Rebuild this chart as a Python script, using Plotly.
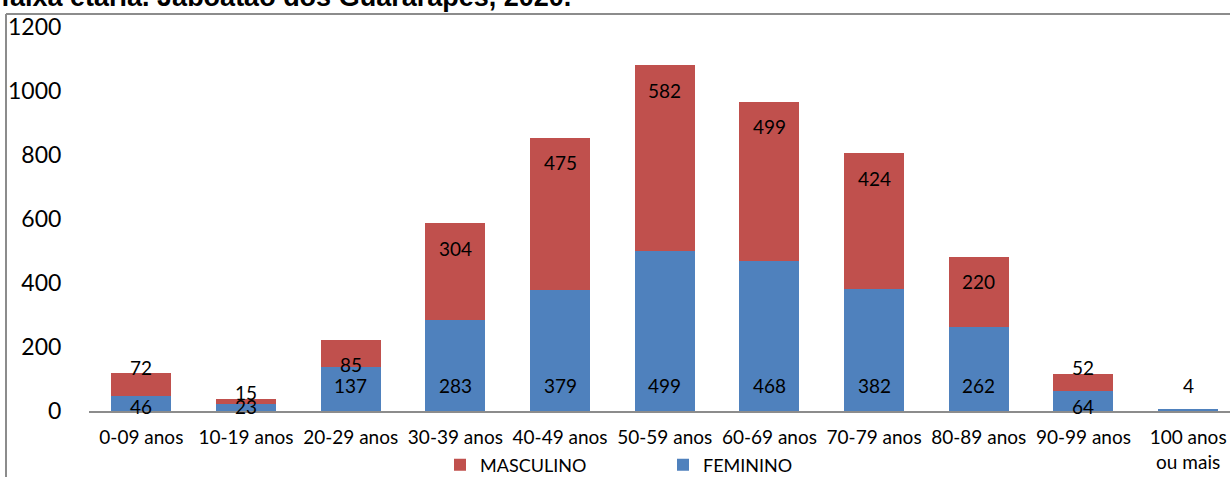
import plotly.graph_objects as go

categories = ["0-09 anos", "10-19 anos", "20-29 anos", "30-39 anos", "40-49 anos",
              "50-59 anos", "60-69 anos", "70-79 anos", "80-89 anos", "90-99 anos",
              "100 anos<br>ou mais"]
feminino = [46, 23, 137, 283, 379, 499, 468, 382, 262, 64, 4]
masculino = [72, 15, 85, 304, 475, 582, 499, 424, 220, 52, 0]
title_text = "faixa etária. Jaboatão dos Guararapes, 2020."

BLUE = "#4F81BD"
RED = "#C0504D"
FONT = "Lato"

W, H = 1230, 477
ML, MR, MT, MB = 89, 0, 27, 66
PW = W - ML - MR
PH = H - MT - MB

fig = go.Figure()
fig.add_trace(go.Bar(x=categories, y=feminino, name="FEMININO",
                     marker=dict(color=BLUE, line=dict(width=0))))
fig.add_trace(go.Bar(x=categories, y=masculino, name="MASCULINO",
                     marker=dict(color=RED, line=dict(width=0))))

ann = []
for c, f, m in zip(categories, feminino, masculino):
    fs = 26 if (f >= 100 or m == 0) else 5
    ann.append(dict(x=c, y=0, xref="x", yref="y", text=str(f), showarrow=False,
                    yanchor="middle", yshift=fs, font=dict(family=FONT, size=19, color="black")))
    if m > 0:
        ms = -25 if m >= 80 else 6
        ann.append(dict(x=c, y=f + m, xref="x", yref="y", text=str(m), showarrow=False,
                        yanchor="middle", yshift=ms, font=dict(family=FONT, size=19, color="black")))

# title (partially cut off at the top)
ann.append(dict(x=-ML / PW, y=1 + (MT - 13) / PH, xref="paper", yref="paper",
                xanchor="left", yanchor="bottom", text="<b>" + title_text + "</b>",
                showarrow=False, borderpad=0,
                font=dict(family="Liberation Sans", size=27, color="black")))

shapes = [
    dict(type="line", xref="paper", yref="paper", x0=(6 - ML) / PW, x1=1.01,
         y0=1 + (MT - 14) / PH, y1=1 + (MT - 14) / PH, line=dict(color="#8C8C8C", width=2)),
    dict(type="line", xref="paper", yref="paper", x0=(6 - ML) / PW, x1=(6 - ML) / PW,
         y0=1 + (MT - 14) / PH, y1=-0.3, line=dict(color="#8C8C8C", width=2)),
]

fig.update_layout(
    width=W, height=H,
    margin=dict(l=ML, r=MR, t=MT, b=MB, pad=0, autoexpand=False),
    barmode="stack", bargap=0.427,
    plot_bgcolor="white", paper_bgcolor="white",
    font=dict(family=FONT, color="black", size=19),
    annotations=ann, shapes=shapes,
    showlegend=True,
    legend=dict(orientation="h", traceorder="reversed", x=440 / W, xanchor="left",
                xref="container", yref="container",
                y=1 - 465 / H, yanchor="middle", entrywidth=178,
                font=dict(family=FONT, size=18), bgcolor="rgba(0,0,0,0)"),
    xaxis=dict(range=[-0.5, 10.4], showgrid=False, showline=True, linecolor="#8C8C8C",
               linewidth=2, ticks="outside", ticklen=8, tickcolor="rgba(0,0,0,0)",
               automargin=False, tickfont=dict(family=FONT, size=19)),
    yaxis=dict(range=[0, 1200], dtick=200, showgrid=False, showline=False, zeroline=False,
               ticks="outside", ticklen=22, tickcolor="rgba(0,0,0,0)", automargin=False,
               tickfont=dict(family=FONT, size=23)),
)

fig.write_html("out.html", config={"displayModeBar": False},
               post_script="document.body.style.margin='0';document.body.style.overflow='hidden';")
